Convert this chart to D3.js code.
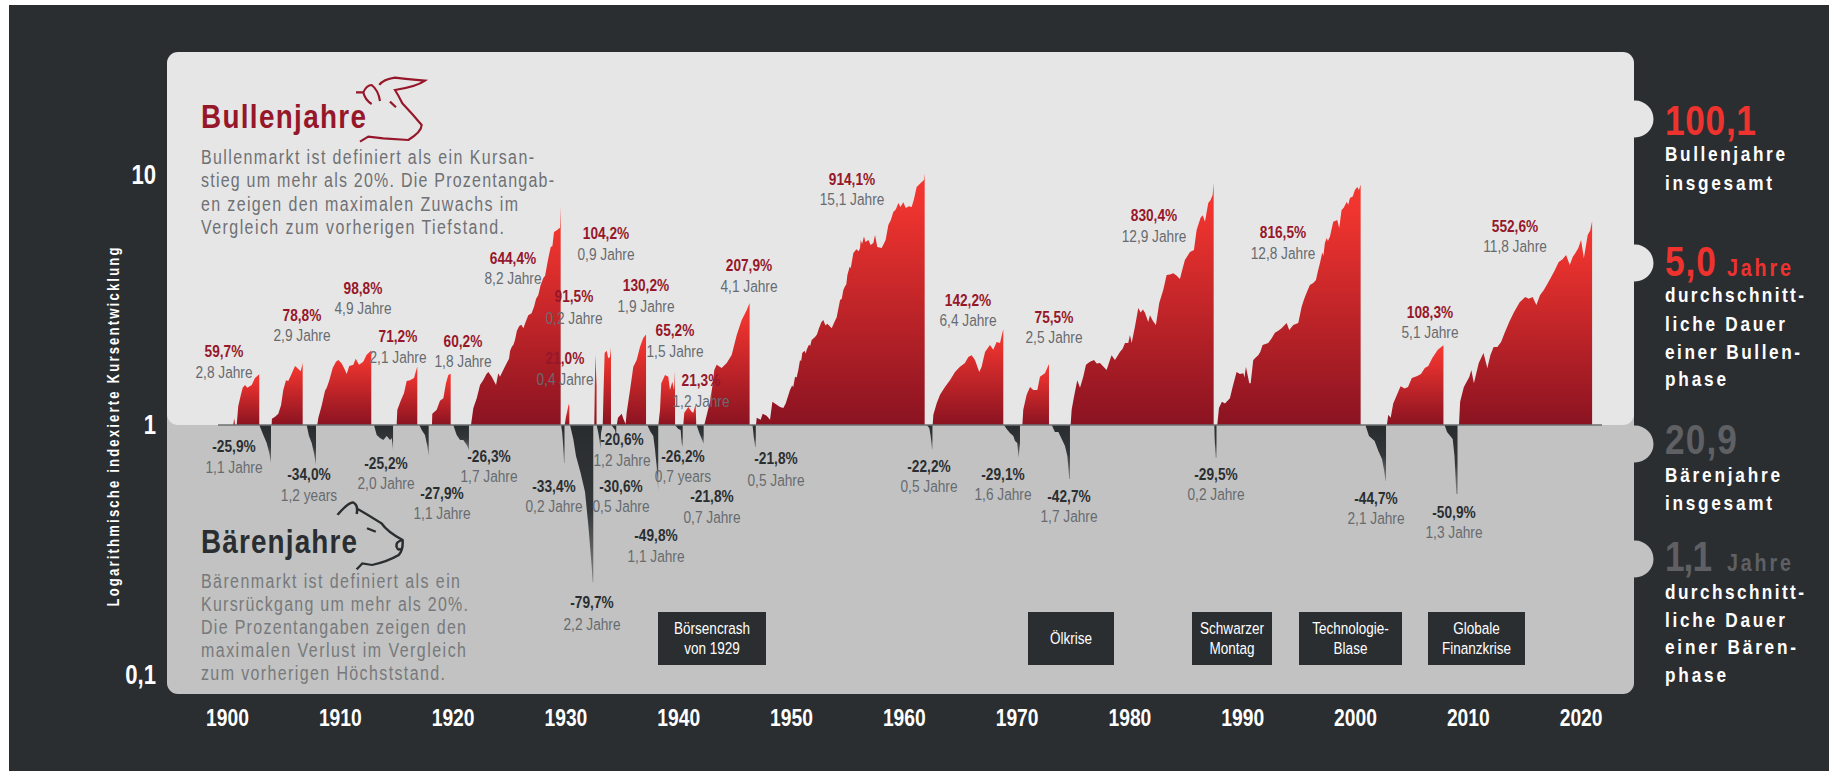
<!DOCTYPE html>
<html>
<head>
<meta charset="utf-8">
<script src="https://cdnjs.cloudflare.com/ajax/libs/d3/7.8.5/d3.min.js"></script>
<style>
html, body { margin: 0; padding: 0; background: #fff; overflow: hidden; }
svg { display: block; }
text { font-family: "Liberation Sans", sans-serif; }
</style>
</head>
<body>
<script>
// bull phases, [year, index value], every phase is rebased to 1 at its start
var bull01 = [[1900.55,1],[1900.58,1.02],[1900.62,1.05],[1900.66,1.06],[1900.7,1]];
var bull02 = [[1900.86,1],[1901.0,1.19],[1901.21,1.31],[1901.39,1.41],[1901.6,1.445],[1901.8,1.41],[1902.19,1.445],[1902.48,1.54],[1902.86,1.597]];
var bull03 = [[1903.96,1],[1903.98,1.06],[1904.26,1.08],[1904.55,1.11],[1904.79,1.2],[1904.99,1.38],[1905.23,1.51],[1905.43,1.5],[1905.67,1.58],[1906.03,1.72],[1906.23,1.69],[1906.53,1.64],[1906.68,1.74],[1906.71,1.788]];
var bull04 = [[1908.0,1],[1908.1,1.07],[1908.4,1.2],[1908.69,1.37],[1908.84,1.41],[1909.07,1.51],[1909.37,1.69],[1909.66,1.79],[1909.87,1.82],[1910.17,1.76],[1910.46,1.66],[1910.61,1.6],[1910.84,1.72],[1911.2,1.74],[1911.41,1.84],[1911.7,1.74],[1912.08,1.79],[1912.38,1.91],[1912.79,1.988]];
var bull05 = [[1915.04,1],[1915.1,1.15],[1915.4,1.25],[1915.69,1.34],[1915.93,1.5],[1916.22,1.51],[1916.58,1.54],[1916.76,1.65],[1916.87,1.712]];
var bull06 = [[1918.17,1],[1918.2,1.11],[1918.59,1.15],[1918.88,1.25],[1919.18,1.28],[1919.41,1.47],[1919.62,1.585],[1919.83,1.602]];
var bull07 = [[1921.63,1],[1921.84,1.17],[1922.14,1.28],[1922.43,1.445],[1922.72,1.514],[1923.0,1.6],[1923.17,1.63],[1923.47,1.56],[1923.85,1.445],[1924.05,1.61],[1924.2,1.56],[1924.35,1.61],[1924.6,1.7],[1924.8,1.77],[1925.0,1.84],[1925.1,1.98],[1925.24,2.05],[1925.4,2.1],[1925.53,2.19],[1925.7,2.38],[1925.91,2.49],[1926.1,2.52],[1926.27,2.44],[1926.5,2.6],[1926.71,2.75],[1927.0,2.8],[1927.22,2.97],[1927.4,3.2],[1927.6,3.31],[1927.8,3.62],[1928.04,3.87],[1928.2,3.95],[1928.4,4.44],[1928.55,4.8],[1928.7,5.15],[1928.85,5.2],[1928.99,5.92],[1929.2,6.0],[1929.52,6.15],[1929.58,7.444]];
var bull08 = [[1929.94,1],[1930.05,1.08],[1930.17,1.14],[1930.29,1.21],[1930.35,1.2]];
var bull09 = [[1932.56,1],[1932.58,1.16],[1932.65,1.915],[1932.72,1.62],[1932.76,1.45]];
var bull10 = [[1933.31,1],[1933.39,1.41],[1933.48,1.94],[1933.66,1.98],[1933.8,1.85],[1933.95,1.87],[1934.04,2.042]];
var bull11 = [[1934.55,1],[1934.66,1.07],[1934.99,1.11],[1935.17,1.05],[1935.34,1.01],[1935.43,1.12],[1935.73,1.38],[1936.02,1.71],[1936.32,1.82],[1936.61,2.05],[1936.9,2.23],[1937.15,2.302]];
var bull12 = [[1938.24,1],[1938.39,1.15],[1938.5,1.47],[1938.83,1.585],[1939.12,1.56],[1939.27,1.38],[1939.48,1.49],[1939.63,1.38],[1939.72,1.652]];
var bull13 = [[1940.45,1],[1940.54,1.12],[1940.9,1.18],[1941.19,1.13],[1941.34,1.12],[1941.55,1.213],[1941.6,1]];
var bull14 = [[1942.31,1],[1942.58,1.12],[1942.82,1.24],[1943.02,1.42],[1943.2,1.66],[1943.41,1.74],[1943.85,1.69],[1944.3,1.77],[1944.74,1.905],[1945.19,2.29],[1945.63,2.63],[1946.07,2.88],[1946.33,3.079]];
var bull15 = [[1946.9,1],[1946.96,1.07],[1947.31,1.05],[1947.49,1.11],[1947.84,1.09],[1948.14,1.05],[1948.35,1.24],[1948.67,1.21],[1949.03,1.18],[1949.32,1.17],[1949.53,1.22],[1949.91,1.38],[1950.1,1.44],[1950.2,1.42],[1950.36,1.56],[1950.5,1.55],[1950.65,1.66],[1950.8,1.82],[1950.9,1.8],[1951.0,1.94],[1951.2,1.98],[1951.3,1.93],[1951.39,2.0],[1951.6,2.1],[1951.7,2.07],[1951.83,2.19],[1952.13,2.25],[1952.3,2.3],[1952.48,2.44],[1952.7,2.58],[1952.87,2.63],[1953.05,2.5],[1953.22,2.54],[1953.61,2.44],[1953.85,2.58],[1954.05,2.7],[1954.35,3.16],[1954.5,3.2],[1954.64,3.47],[1954.8,3.6],[1954.9,3.65],[1955.0,3.98],[1955.2,4.3],[1955.3,4.25],[1955.53,4.88],[1955.8,5.05],[1956.0,4.95],[1956.12,5.1],[1956.18,5.5],[1956.3,5.3],[1956.47,5.67],[1956.6,5.4],[1956.86,5.5],[1957.06,5.25],[1957.3,5.35],[1957.45,5.75],[1957.65,5.15],[1958.04,5.1],[1958.39,5.5],[1958.63,6.31],[1958.85,6.6],[1959.07,7.11],[1959.3,7.3],[1959.52,7.72],[1959.7,7.45],[1959.96,7.78],[1960.17,7.38],[1960.45,7.5],[1960.7,7.44],[1960.9,8.0],[1961.14,8.95],[1961.5,9.3],[1961.79,9.55],[1961.85,10.14]];
var bull16 = [[1962.56,1],[1962.62,1.1],[1962.91,1.22],[1963.21,1.32],[1963.65,1.42],[1964.09,1.51],[1964.54,1.63],[1964.98,1.71],[1965.42,1.77],[1965.72,1.87],[1966.01,1.9],[1966.31,1.82],[1966.69,1.63],[1966.9,1.71],[1967.2,1.96],[1967.64,2.09],[1967.93,2.0],[1968.23,2.15],[1968.53,2.13],[1968.82,2.422]];
var bull17 = [[1970.51,1],[1970.59,1.15],[1970.89,1.32],[1971.19,1.42],[1971.48,1.38],[1971.84,1.38],[1972.07,1.56],[1972.51,1.61],[1972.87,1.755]];
var bull18 = [[1974.79,1],[1974.88,1.15],[1975.08,1.29],[1975.38,1.51],[1975.62,1.41],[1975.91,1.56],[1976.15,1.74],[1976.5,1.79],[1976.86,1.82],[1977.1,1.76],[1977.39,1.77],[1977.98,1.66],[1978.2,1.78],[1978.42,1.9],[1978.72,1.82],[1979.16,1.96],[1979.4,2.02],[1979.61,2.13],[1979.9,2.13],[1980.05,2.29],[1980.2,2.13],[1980.49,2.47],[1980.79,2.94],[1981.0,2.82],[1981.2,2.9],[1981.38,2.81],[1981.67,2.58],[1981.82,2.75],[1982.1,2.6],[1982.35,2.51],[1982.65,3.08],[1983.0,3.47],[1983.3,3.98],[1983.6,4.0],[1983.89,4.05],[1984.2,3.95],[1984.48,3.84],[1984.7,4.2],[1984.92,4.57],[1985.37,4.92],[1985.72,5.01],[1985.96,6.03],[1986.31,6.75],[1986.5,6.9],[1986.7,6.5],[1986.99,7.72],[1987.2,7.95],[1987.38,8.32],[1987.47,9.304]];
var bull19 = [[1987.79,1],[1987.94,1.17],[1988.2,1.24],[1988.47,1.22],[1988.91,1.28],[1989.15,1.42],[1989.5,1.63],[1989.8,1.6],[1990.1,1.61],[1990.2,1.55],[1990.33,1.71],[1990.63,1.47],[1990.75,1.47],[1990.98,1.82],[1991.2,1.86],[1991.42,1.9],[1991.6,1.96],[1991.81,2.09],[1992.31,2.13],[1992.6,2.22],[1992.9,2.34],[1993.2,2.38],[1993.49,2.44],[1993.94,2.56],[1994.17,2.4],[1994.53,2.51],[1994.97,2.56],[1995.27,2.97],[1995.5,3.2],[1995.71,3.38],[1996.0,3.63],[1996.3,3.7],[1996.54,3.8],[1996.7,4.1],[1996.89,4.44],[1997.1,4.9],[1997.2,4.75],[1997.33,5.35],[1997.5,5.6],[1997.6,5.45],[1997.78,5.67],[1998.07,6.5],[1998.43,6.6],[1998.6,6.14],[1998.81,7.24],[1999.0,7.4],[1999.26,7.8],[1999.4,7.6],[1999.55,8.09],[1999.8,8.2],[1999.99,8.71],[2000.2,8.95],[2000.35,8.7],[2000.5,9.165]];
var bull20 = [[2002.83,1],[2002.95,1.1],[2003.16,1.07],[2003.39,1.22],[2003.72,1.32],[2004.04,1.43],[2004.4,1.4],[2004.7,1.42],[2005.04,1.54],[2005.52,1.57],[2005.85,1.6],[2006.19,1.69],[2006.5,1.72],[2006.84,1.85],[2007.34,2.0],[2007.84,2.083]];
var bull21 = [[2009.22,1],[2009.32,1.24],[2009.65,1.42],[2010.14,1.56],[2010.31,1.66],[2010.54,1.47],[2010.97,1.77],[2011.39,1.94],[2011.73,1.69],[2012.0,1.9],[2012.29,2.05],[2012.62,2.05],[2012.95,2.15],[2013.27,2.34],[2013.7,2.6],[2014.1,2.83],[2014.6,3.1],[2015.09,3.25],[2015.4,3.2],[2015.75,3.25],[2016.08,3.02],[2016.4,3.3],[2016.74,3.47],[2017.1,3.7],[2017.39,3.91],[2017.7,4.15],[2018.06,4.49],[2018.4,4.6],[2018.71,4.79],[2019.04,4.37],[2019.3,4.7],[2019.54,4.88],[2019.8,5.1],[2020.04,5.5],[2020.29,4.65],[2020.63,5.75],[2020.85,6.0],[2021.02,6.526]];
var bullSeries = [bull01,bull02,bull03,bull04,bull05,bull06,bull07,bull08,bull09,bull10,bull11,bull12,bull13,bull14,bull15,bull16,bull17,bull18,bull19,bull20,bull21];

// bear phases, values as they are drawn in the picture
var bear01 = [[1902.86,1],[1903.22,.912],[1903.52,.847],[1903.75,.773],[1903.9,.705]];
var bear02 = [[1907.06,1],[1907.27,.903],[1907.51,.847],[1907.71,.773],[1907.89,.692]];
var bear03 = [[1913.03,1],[1913.27,.912],[1913.56,.887],[1913.86,.871],[1914.16,.903],[1914.45,.871],[1914.6,.887],[1914.72,.794]];
var bear04 = [[1917.05,1],[1917.26,.955],[1917.55,.912],[1917.76,.824],[1917.88,.751]];
var bear05 = [[1920.06,1],[1920.36,.912],[1920.66,.871],[1920.95,.871],[1921.25,.832],[1921.45,.794]];
var bear06 = [[1929.62,1],[1929.72,.93],[1929.8,.83],[1929.88,.705],[1929.92,.705]];
var bear07 = [[1930.41,1],[1930.7,.879],[1930.94,.752],[1931.35,.643],[1931.74,.54],[1932.03,.398],[1932.33,.273],[1932.42,.235],[1932.47,.235]];
var bear08 = [[1932.77,1],[1932.92,.93],[1933.04,.86],[1933.1,.8],[1933.16,.93],[1933.26,.98]];
var bear09 = [[1934.09,1],[1934.22,.98],[1934.4,.955],[1934.51,.89]];
var bear10 = [[1937.26,1],[1937.5,.946],[1937.79,.903],[1937.94,.802],[1938.09,.685],[1938.23,.544]];
var bear11 = [[1939.72,1],[1940.01,.964],[1940.22,.955],[1940.31,.839],[1940.4,.816]];
var bear12 = [[1941.63,1],[1941.87,.929],[1942.08,.879],[1942.26,.839]];
var bear13 = [[1946.38,1],[1946.6,.99],[1946.72,.879],[1946.83,.816],[1946.88,.816]];
var bear14 = [[1962.03,1],[1962.26,.973],[1962.38,.903],[1962.5,.802],[1962.54,.802]];
var bear15 = [[1968.88,1],[1969.12,.964],[1969.41,.929],[1969.71,.903],[1969.86,.863],[1970.06,.847],[1970.18,.738],[1970.3,.85]];
var bear16 = [[1973.11,1],[1973.4,.937],[1973.7,.937],[1974.0,.879],[1974.29,.824],[1974.5,.751],[1974.67,.608],[1974.73,.608]];
var bear17 = [[1987.53,1],[1987.56,.88],[1987.65,.74],[1987.72,.74]];
var bear18 = [[2000.92,1],[2001.24,.903],[2001.74,.863],[2002.07,.787],[2002.39,.731],[2002.56,.667],[2002.72,.597],[2002.75,.597]];
var bear19 = [[2007.94,1],[2008.16,.937],[2008.66,.879],[2008.82,.751],[2008.99,.53],[2009.09,.53]];
var bearSeries = [bear01,bear02,bear03,bear04,bear05,bear06,bear07,bear08,bear09,bear10,bear11,bear12,bear13,bear14,bear15,bear16,bear17,bear18,bear19];

// texts of the labels, in the order of the position lists further down
var bullPercent = ["59,7%","78,8%","98,8%","71,2%","60,2%","644,4%","104,2%","91,5%","21,0%","130,2%","65,2%","21,3%","207,9%","914,1%","142,2%","75,5%","830,4%","816,5%","108,3%","552,6%"];
var bullDuration = ["2,8 Jahre","2,9 Jahre","4,9 Jahre","2,1 Jahre","1,8 Jahre","8,2 Jahre","0,9 Jahre","0,2 Jahre","0,4 Jahre","1,9 Jahre","1,5 Jahre","1,2 Jahre","4,1 Jahre","15,1 Jahre","6,4 Jahre","2,5 Jahre","12,9 Jahre","12,8 Jahre","5,1 Jahre","11,8 Jahre"];
var bearPercent = ["-25,9%","-34,0%","-25,2%","-27,9%","-26,3%","-33,4%","-30,6%","-20,6%","-79,7%","-49,8%","-26,2%","-21,8%","-21,8%","-22,2%","-29,1%","-42,7%","-29,5%","-44,7%","-50,9%"];
var bearDuration = ["1,1 Jahre","1,2 years","2,0 Jahre","1,1 Jahre","1,7 Jahre","0,2 Jahre","0,5 Jahre","1,2 Jahre","2,2 Jahre","1,1 Jahre","0,7 years","0,7 Jahre","0,5 Jahre","0,5 Jahre","1,6 Jahre","1,7 Jahre","0,2 Jahre","2,1 Jahre","1,3 Jahre"];

var xTicks = [1900,1910,1920,1930,1940,1950,1960,1970,1980,1990,2000,2010,2020];
var yTicks = [10,1,0.1];
var yTickLabels = ["10","1","0,1"];

var eventNames = [["Börsencrash","von 1929"],["Ölkrise"],["Schwarzer","Montag"],["Technologie-","Blase"],["Globale","Finanzkrise"]];

window.onload = drawChart;

function drawChart(){

	var width = 1829,
		height = 771;

	var red = "#96172a",
		bright = "#ee332f",
		dark = "#2b2e31",
		light = "#e6e6e6",
		grey = "#c1c2c1",
		narrow = 0.82; // no condensed font here, squeeze the glyphs instead

	var svg = d3.select("body")
		.append("svg")
		.attr("width", width)
		.attr("height", height);

	// scales, one decade is 250 px
	var x = d3.scaleLinear().domain([1900, 2020]).range([227, 1580.6]);
	var y = d3.scaleLog().domain([0.1, 10]).range([675, 175]);

	var defs = svg.append("defs");

	var bullGrad = defs.append("linearGradient")
		.attr("id", "bullGrad")
		.attr("x1", 0).attr("y1", 0).attr("x2", 0).attr("y2", 1);
	bullGrad.append("stop").attr("offset", "0").attr("stop-color", "#f4362f");
	bullGrad.append("stop").attr("offset", "0.12").attr("stop-color", "#ef342f");
	bullGrad.append("stop").attr("offset", "1").attr("stop-color", "#8a1321");

	var bearGrad = defs.append("linearGradient")
		.attr("id", "bearGrad")
		.attr("x1", 0).attr("y1", 0).attr("x2", 0).attr("y2", 1);
	bearGrad.append("stop").attr("offset", "0").attr("stop-color", "#292c2f");
	bearGrad.append("stop").attr("offset", "0.55").attr("stop-color", "#34373a");
	bearGrad.append("stop").attr("offset", "1").attr("stop-color", "#808283");

	// page background, the picture has a thin white edge left and top
	svg.append("rect")
		.attr("x", 9).attr("y", 5)
		.attr("width", width - 9).attr("height", height - 5)
		.attr("fill", dark);

	// two panels with the round tabs on the right
	svg.append("rect")
		.attr("x", 167).attr("y", 400)
		.attr("width", 1467).attr("height", 294)
		.attr("rx", 11)
		.attr("fill", grey);
	svg.append("rect")
		.attr("x", 167).attr("y", 52)
		.attr("width", 1467).attr("height", 373)
		.attr("rx", 11)
		.attr("fill", light);

	[119, 263].forEach(function(cy){
		svg.append("circle").attr("cx", 1635).attr("cy", cy).attr("r", 18.5).attr("fill", light);
	});
	[444, 559].forEach(function(cy){
		svg.append("circle").attr("cx", 1635).attr("cy", cy).attr("r", 18.5).attr("fill", grey);
	});

	// areas, each phase gets its own gradient box
	var area = d3.area()
		.x(function(d){ return x(d[0]); })
		.y0(y(1))
		.y1(function(d){ return y(d[1]); });

	svg.selectAll(".bull")
		.data(bullSeries)
		.enter()
		.append("path")
		.attr("class", "bull")
		.attr("fill", "url(#bullGrad)")
		.attr("d", area);

	svg.selectAll(".bear")
		.data(bearSeries)
		.enter()
		.append("path")
		.attr("class", "bear")
		.attr("fill", "url(#bearGrad)")
		.attr("d", area);

	// baseline at 1
	svg.append("line")
		.attr("x1", 218).attr("x2", 1602)
		.attr("y1", y(1)).attr("y2", y(1))
		.attr("stroke", "#6c6f71")
		.attr("stroke-width", 1.6);

	// axes
	var xAxis = d3.axisBottom(x)
		.tickValues(xTicks)
		.tickFormat(d3.format("d"))
		.tickSize(0)
		.tickPadding(0);

	var gx = svg.append("g")
		.attr("transform", "translate(0,726)")
		.call(xAxis);
	gx.select(".domain").remove();
	gx.selectAll("text")
		.attr("y", 0).attr("dy", 0)
		.attr("transform", "scale(" + narrow + ",1)")
		.attr("fill", "#fff")
		.style("font-family", "Liberation Sans")
		.style("font-weight", "bold")
		.style("font-size", "23.5px");

	var yAxis = d3.axisLeft(y)
		.tickValues(yTicks)
		.tickFormat(function(d, i){ return yTickLabels[i]; })
		.tickSize(0)
		.tickPadding(0);

	var gy = svg.append("g")
		.attr("transform", "translate(156,0)")
		.call(yAxis);
	gy.select(".domain").remove();
	gy.selectAll("text")
		.attr("x", 0)
		.attr("dy", "0.3em")
		.attr("transform", "scale(" + narrow + ",1)")
		.attr("fill", "#fff")
		.style("font-family", "Liberation Sans")
		.style("font-weight", "bold")
		.style("font-size", "27px");

	svg.append("text")
		.attr("transform", "translate(119,427) rotate(-90) scale(" + narrow + ",1)")
		.attr("text-anchor", "middle")
		.attr("textLength", 359 / narrow)
		.attr("fill", "#fff")
		.style("font-weight", "bold")
		.style("font-size", "16px")
		.text("Logarithmische indexierte Kursentwicklung");

	// label positions: centre x, baseline of percent, baseline of duration
	var bullLabelPos = [[224,357,378],[302,321,341],[363,294,314],[398,342,363],[463,347,367],[513,264,284],[606,239,260],[574,302,324],[565,364,385],[646,291,312],[675,336,357],[701,386,407],[749,271,292],[852,185,205],[968,306,326],[1054,323,343],[1154,221,242],[1283,238,259],[1430,318,338],[1515,232,252]];
	var bearLabelPos = [[234,452,473],[309,480,501],[386,469,489],[442,499,519],[489,462,482],[554,492,512],[621,492,512],[622,445,466],[592,608,630],[656,541,562],[683,462,482],[712,502,523],[776,464,486],[929,472,492],[1003,480,500],[1069,502,522],[1216,480,500],[1376,504,524],[1454,518,538]];

	function phaseLabels(percent, duration, pos, color){
		percent.forEach(function(p, i){
			svg.append("text")
				.attr("transform", "translate(" + pos[i][0] + "," + pos[i][1] + ") scale(" + narrow + ",1)")
				.attr("text-anchor", "middle")
				.attr("fill", color)
				.style("font-weight", "bold")
				.style("font-size", "16.7px")
				.text(p);
			svg.append("text")
				.attr("transform", "translate(" + pos[i][0] + "," + pos[i][2] + ") scale(" + narrow + ",1)")
				.attr("text-anchor", "middle")
				.attr("fill", "#676b70")
				.style("font-size", "16.7px")
				.text(duration[i]);
		});
	}
	phaseLabels(bullPercent, bullDuration, bullLabelPos, red);
	phaseLabels(bearPercent, bearDuration, bearLabelPos, dark);

	// line of text with a fixed width, the original font is more spaced out
	function line(txt, px, py, len, size, color, weight){
		return svg.append("text")
			.attr("transform", "translate(" + px + "," + py + ") scale(" + narrow + ",1)")
			.attr("textLength", len / narrow)
			.attr("fill", color)
			.style("font-size", size + "px")
			.style("font-weight", weight)
			.text(txt);
	}

	// headings and explanations
	line("Bullenjahre", 201, 128, 165, 34, red, "bold");
	line("Bullenmarkt ist definiert als ein Kursan-", 201, 164, 333, 19.5, "#6f7175", "normal");
	line("stieg um mehr als 20%. Die Prozentangab-", 201, 187, 353, 19.5, "#6f7175", "normal");
	line("en zeigen den maximalen Zuwachs im", 201, 211, 317, 19.5, "#6f7175", "normal");
	line("Vergleich zum vorherigen Tiefstand.", 201, 234, 303, 19.5, "#6f7175", "normal");

	line("Bärenjahre", 201, 553, 156, 34, dark, "bold");
	line("Bärenmarkt ist definiert als ein", 201, 588, 259, 19.5, "#77797c", "normal");
	line("Kursrückgang um mehr als 20%.", 201, 611, 267, 19.5, "#77797c", "normal");
	line("Die Prozentangaben zeigen den", 201, 634, 265, 19.5, "#77797c", "normal");
	line("maximalen Verlust im Vergleich", 201, 657, 265, 19.5, "#77797c", "normal");
	line("zum vorherigen Höchststand.", 201, 680, 244, 19.5, "#77797c", "normal");

	// bull and bear head outlines
	svg.append("path")
		.attr("transform", "translate(150,40) scale(0.3333)")
		.attr("d", "M618,157 L640,157 Q650,135 665,135 Q685,150 690,183 M640,157 Q645,180 665,192 M688,135 Q700,118 735,113 Q770,118 825,122 Q800,140 735,150 Q745,165 757,190 Q790,225 815,255 Q815,275 775,300 L700,295 L655,290 L630,305 M720,185 L738,202")
		.attr("fill", "none")
		.attr("stroke", red)
		.attr("stroke-width", 6.5);
	svg.append("path")
		.attr("transform", "translate(150,440) scale(0.3827,0.3333)")
		.attr("d", "M490,225 Q515,190 530,187 Q545,195 540,222 M540,205 Q570,225 605,250 Q620,275 660,300 Q662,330 650,345 Q620,365 580,375 L555,370 L540,388 M660,300 Q640,305 645,322 Q650,335 655,325 M567,265 L590,275")
		.attr("fill", "none")
		.attr("stroke", dark)
		.attr("stroke-width", 6.5);

	// event boxes
	var eventBoxes = [[658,108],[1028,86],[1192,80],[1299,103],[1428,97]];
	eventNames.forEach(function(lines, i){
		svg.append("rect")
			.attr("x", eventBoxes[i][0]).attr("y", 612)
			.attr("width", eventBoxes[i][1]).attr("height", 53)
			.attr("fill", dark);
		lines.forEach(function(t, j){
			var tx = eventBoxes[i][0] + eventBoxes[i][1] / 2;
			var ty = lines.length == 1 ? 644 : 634 + j * 20;
			svg.append("text")
				.attr("transform", "translate(" + tx + "," + ty + ") scale(" + narrow + ",1)")
				.attr("text-anchor", "middle")
				.attr("fill", "#fff")
				.style("font-size", "16.5px")
				.text(t);
		});
	});

	// key figures on the right
	line("100,1", 1665, 135, 91, 43, bright, "bold");
	line("Bullenjahre", 1665, 161, 120, 21, "#fff", "bold");
	line("insgesamt", 1665, 190, 107, 21, "#fff", "bold");

	line("5,0", 1665, 276, 51, 43, bright, "bold");
	line("Jahre", 1727, 276, 64, 24, bright, "bold");
	line("durchschnitt-", 1665, 302, 139, 21, "#fff", "bold");
	line("liche Dauer", 1665, 331, 120, 21, "#fff", "bold");
	line("einer Bullen-", 1665, 359, 135, 21, "#fff", "bold");
	line("phase", 1665, 386, 61, 21, "#fff", "bold");

	line("20,9", 1665, 454, 72, 43, "#5e6063", "bold");
	line("Bärenjahre", 1665, 482, 115, 21, "#fff", "bold");
	line("insgesamt", 1665, 510, 107, 21, "#fff", "bold");

	line("1,1", 1665, 571, 47, 43, "#5e6063", "bold");
	line("Jahre", 1727, 571, 64, 24, "#5e6063", "bold");
	line("durchschnitt-", 1665, 599, 139, 21, "#fff", "bold");
	line("liche Dauer", 1665, 627, 120, 21, "#fff", "bold");
	line("einer Bären-", 1665, 654, 131, 21, "#fff", "bold");
	line("phase", 1665, 682, 61, 21, "#fff", "bold");
}
</script>
</body>
</html>
